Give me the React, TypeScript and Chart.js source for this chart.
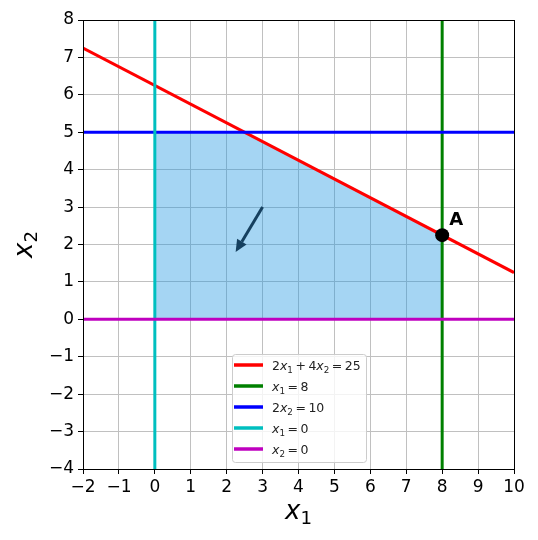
import { useEffect, useRef } from 'react';
import { Chart, registerables } from 'chart.js';
Chart.register(...registerables);

const xRange = [-2, 10];
const yRange = [-4, 8];
const legendLabels = ['2x_1 + 4x_2 = 25', 'x_1 = 8', '2x_2 = 10', 'x_1 = 0', 'x_2 = 0'];
const lineColors = ['#ff0000', '#008000', '#0000ff', '#00bfbf', '#bf00bf'];
const redX = [-2, 10];
const redY = [7.25, 1.25];
const greenX = [8, 8];
const greenY = [-4, 8];
const blueX = [-2, 10];
const blueY = [5, 5];
const cyanX = [0, 0];
const cyanY = [-4, 8];
const magentaX = [-2, 10];
const magentaY = [0, 0];
const regionX = [0, 0, 2.5, 8, 8];
const regionY = [0, 5, 5, 2.25, 0];
const pointA = [8, 2.25];
const pointLabel = 'A';
const labelPos = [8.2, 2.52];
const arrowFrom = [3, 3];
const arrowTo = [2.25, 1.8];
const xTitle = 'x_1';
const yTitle = 'x_2';

const FONT = '"DejaVu Sans"';

type Run = { t: string; it?: boolean; sub?: boolean };
function parseMath(s: string): Run[] {
  const runs: Run[] = [];
  for (let i = 0; i < s.length; i++) {
    const c = s[i];
    if (c === '_') { runs.push({ t: s[i + 1], sub: true }); i++; }
    else if (/[a-zA-Z]/.test(c)) runs.push({ t: c, it: true });
    else runs.push({ t: c });
  }
  return runs;
}
function runFont(r: Run, size: number) {
  return `${r.it ? 'italic ' : ''}${r.sub ? size * 0.7 : size}px ${FONT}`;
}
function runWidth(ctx: CanvasRenderingContext2D, r: Run, size: number, space: number) {
  if (r.t === ' ') return size * space;
  ctx.font = runFont(r, size);
  return ctx.measureText(r.t).width;
}
function mathWidth(ctx: CanvasRenderingContext2D, s: string, size: number, space = 0.25) {
  return parseMath(s).reduce((a, r) => a + runWidth(ctx, r, size, space), 0);
}
function drawMath(ctx: CanvasRenderingContext2D, s: string, x: number, y: number, size: number, color: string, space = 0.25) {
  ctx.save();
  ctx.fillStyle = color;
  ctx.textBaseline = 'alphabetic';
  ctx.textAlign = 'left';
  let cx = x;
  for (const r of parseMath(s)) {
    const w = runWidth(ctx, r, size, space);
    if (r.t !== ' ') {
      ctx.font = runFont(r, size);
      ctx.fillText(r.t, cx, y + (r.sub ? size * 0.2 : 0));
    }
    cx += w;
  }
  ctx.restore();
}

const pts = (xs: number[], ys: number[]) => xs.map((x, i) => ({ x, y: ys[i] }));

const overlay = {
  id: 'overlay',
  afterDatasetsDraw(chart: any) {
    const ctx: CanvasRenderingContext2D = chart.ctx;
    const xs = chart.scales.x, ys = chart.scales.y;
    const ca = chart.chartArea;
    // arrow
    const x0 = xs.getPixelForValue(arrowFrom[0]), y0 = ys.getPixelForValue(arrowFrom[1]);
    const x1 = xs.getPixelForValue(arrowTo[0]), y1 = ys.getPixelForValue(arrowTo[1]);
    const ang = Math.atan2(y1 - y0, x1 - x0);
    const hl = 12, hw = 5.5;
    const bx = x1 - hl * Math.cos(ang), by = y1 - hl * Math.sin(ang);
    ctx.save();
    ctx.strokeStyle = '#16405f';
    ctx.fillStyle = '#16405f';
    ctx.lineWidth = 3;
    ctx.beginPath();
    ctx.moveTo(x0, y0);
    ctx.lineTo(bx, by);
    ctx.stroke();
    ctx.beginPath();
    ctx.moveTo(x1, y1);
    ctx.lineTo(bx + hw * Math.sin(ang), by - hw * Math.cos(ang));
    ctx.lineTo(bx - hw * Math.sin(ang), by + hw * Math.cos(ang));
    ctx.closePath();
    ctx.fill();
    ctx.restore();
    // label A
    ctx.save();
    ctx.font = `bold 18px ${FONT}`;
    ctx.fillStyle = '#000';
    ctx.textAlign = 'left';
    ctx.textBaseline = 'alphabetic';
    ctx.fillText(pointLabel, xs.getPixelForValue(labelPos[0]), ys.getPixelForValue(labelPos[1]));
    ctx.restore();
    // frame
    ctx.save();
    ctx.strokeStyle = '#000';
    ctx.lineWidth = 1;
    ctx.strokeRect(Math.round(ca.left) + 0.5, Math.round(ca.top) + 0.5, Math.round(ca.right - ca.left), Math.round(ca.bottom - ca.top));
    ctx.restore();
    // legend
    const lx = 232, ly = 354, lw = 134, lh = 108;
    ctx.save();
    ctx.fillStyle = 'rgba(255,255,255,0.8)';
    ctx.strokeStyle = '#cccccc';
    ctx.lineWidth = 1;
    ctx.beginPath();
    (ctx as any).roundRect(lx + 0.5, ly + 0.5, lw, lh, 3);
    ctx.fill();
    ctx.stroke();
    legendLabels.forEach((lab, i) => {
      const cy = 365 + i * 21;
      ctx.strokeStyle = lineColors[i];
      ctx.lineWidth = 3.5;
      ctx.beginPath();
      ctx.moveTo(234, cy);
      ctx.lineTo(263, cy);
      ctx.stroke();
      drawMath(ctx, lab, 272, cy + 5, 12.5, '#222', 0.2);
    });
    ctx.restore();
    // axis titles
    const tSize = 26;
    const wx = mathWidth(ctx, xTitle, tSize);
    drawMath(ctx, xTitle, (ca.left + ca.right) / 2 - wx / 2, 519, tSize, '#000');
    const wy = mathWidth(ctx, yTitle, tSize);
    ctx.save();
    ctx.translate(32, (ca.top + ca.bottom) / 2);
    ctx.rotate(-Math.PI / 2);
    drawMath(ctx, yTitle, -wy / 2, 0, tSize, '#000');
    ctx.restore();
  },
};

export default function App() {
  const ref = useRef<HTMLCanvasElement>(null);
  useEffect(() => {
    document.body.style.margin = '0';
    const tickFmt = (v: any) => String(v).replace('-', '\u2212');
    const lineDs = (label: string, data: any[], color: string, order: number) => ({
      label, data, borderColor: color, borderWidth: 3, pointRadius: 0, fill: false, order,
    });
    const chart = new Chart(ref.current!, {
      type: 'line',
      data: {
        datasets: [
          { label: 'A', data: [{ x: pointA[0], y: pointA[1] }], showLine: false, pointRadius: 7, pointBackgroundColor: '#000', pointBorderWidth: 0, order: 0 } as any,
          lineDs('x2=0', pts(magentaX, magentaY), lineColors[4], 1),
          lineDs('x1=0', pts(cyanX, cyanY), lineColors[3], 2),
          lineDs('2x2=10', pts(blueX, blueY), lineColors[2], 3),
          lineDs('x1=8', pts(greenX, greenY), lineColors[1], 4),
          lineDs('2x1+4x2=25', pts(redX, redY), lineColors[0], 5),
          { label: 'region', data: pts(regionX, regionY), borderWidth: 0, borderColor: 'rgba(0,0,0,0)', backgroundColor: 'rgba(30,150,225,0.4)', fill: 'shape', pointRadius: 0, tension: 0, order: 10 } as any,
        ],
      },
      options: {
        responsive: false,
        animation: false,
        devicePixelRatio: 1,
        layout: { padding: { left: 0, top: 20, right: 24, bottom: 0 } },
        plugins: { legend: { display: false }, tooltip: { enabled: false } },
        scales: {
          x: {
            type: 'linear', min: xRange[0], max: xRange[1],
            afterFit: (s: any) => { s.height = 71; },
            ticks: { stepSize: 1, autoSkip: false, maxRotation: 0, padding: 3, color: '#000', font: { family: 'DejaVu Sans', size: 17 }, callback: tickFmt },
            grid: { color: '#c0c0c0', lineWidth: 1, tickLength: 5, tickColor: '#000', tickWidth: 1 },
            border: { display: false },
          },
          y: {
            type: 'linear', min: yRange[0], max: yRange[1],
            afterFit: (s: any) => { s.width = 83; },
            ticks: { stepSize: 1, autoSkip: false, padding: 4, color: '#000', font: { family: 'DejaVu Sans', size: 17 }, callback: tickFmt },
            grid: { color: '#c0c0c0', lineWidth: 1, tickLength: 5, tickColor: '#000', tickWidth: 1 },
            border: { display: false },
          },
        },
      },
      plugins: [overlay],
    });
    return () => chart.destroy();
  }, []);
  return (
    <div style={{ width: 538, height: 540 }}>
      <canvas ref={ref} width={538} height={540} style={{ display: 'block' }} />
    </div>
  );
}
